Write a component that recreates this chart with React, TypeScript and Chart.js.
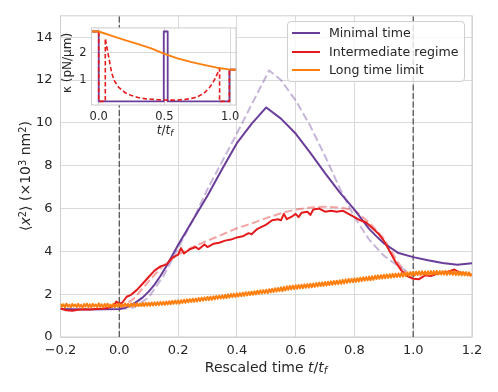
import React, { useEffect, useRef } from "react";
import { Chart, registerables } from "chart.js";

Chart.register(...registerables);

const FONT = "'DejaVu Sans', sans-serif";
const TEXT = "#262626";
const GRID = "#dadada";
const SPINE = "#cccccc";

const PURPLE = "#6a3d9a";
const RED = "#e41a1c";
const ORANGE = "#ff7f0e";
const PURPLE_LIGHT = "rgba(106,61,154,0.38)";
const RED_LIGHT = "rgba(228,26,28,0.4)";
const EDGE = "#555555";

// ---- main axes ----
const xTicks = [-0.2, 0, 0.2, 0.4, 0.6, 0.8, 1.0, 1.2];
const xTickLabels = ["\u22120.2", "0.0", "0.2", "0.4", "0.6", "0.8", "1.0", "1.2"];
const yTicks = [0, 2, 4, 6, 8, 10, 12, 14];
const yTickLabels = ["0", "2", "4", "6", "8", "10", "12", "14"];
const xRange = [-0.2, 1.2];
const yRange = [0, 15];
const protocolEdges = [0, 1];

// Minimal time: simulation
const minimalT = [-0.2, -0.15, -0.1, -0.05, 0, 0.02, 0.04, 0.06, 0.08, 0.1, 0.12, 0.14, 0.16, 0.18, 0.2, 0.25, 0.3, 0.35, 0.4, 0.45, 0.5, 0.55, 0.6, 0.65, 0.7, 0.75, 0.8, 0.85, 0.875, 0.9, 0.95, 1.0, 1.05, 1.1, 1.15, 1.2];
const minimalV = [1.31, 1.3, 1.29, 1.3, 1.31, 1.36, 1.48, 1.65, 1.85, 2.12, 2.45, 2.85, 3.3, 3.8, 4.3, 5.45, 6.6, 7.85, 9.05, 9.95, 10.72, 10.2, 9.5, 8.6, 7.65, 6.75, 5.95, 5.05, 4.7, 4.38, 3.92, 3.73, 3.58, 3.46, 3.37, 3.44];

// Minimal time: theory (dashed)
const minimalTheoryT = [0, 0.05, 0.1, 0.15, 0.2, 0.25, 0.3, 0.35, 0.4, 0.45, 0.51, 0.55, 0.6, 0.65, 0.7, 0.75, 0.8, 0.85, 0.9, 0.95, 0.98];
const minimalTheoryV = [1.3, 1.38, 1.85, 2.85, 4.15, 5.45, 6.9, 8.2, 9.5, 10.85, 12.45, 12.0, 11.05, 9.85, 8.45, 6.95, 5.6, 4.55, 3.8, 3.3, 3.05];

// Intermediate regime: simulation
const interT = [-0.2, -0.18, -0.16, -0.14, -0.12, -0.1, -0.08, -0.06, -0.04, -0.02, -0.01, 0.0, 0.01, 0.025, 0.04, 0.06, 0.08, 0.1, 0.12, 0.14, 0.16, 0.18, 0.2, 0.21, 0.22, 0.24, 0.26, 0.27, 0.29, 0.3, 0.32, 0.34, 0.36, 0.38, 0.4, 0.42, 0.44, 0.45, 0.47, 0.5, 0.52, 0.54, 0.55, 0.56, 0.57, 0.59, 0.6, 0.61, 0.62, 0.64, 0.65, 0.66, 0.68, 0.7, 0.72, 0.74, 0.76, 0.78, 0.8, 0.82, 0.84, 0.86, 0.88, 0.9, 0.92, 0.94, 0.96, 0.98, 1.0, 1.02, 1.04, 1.06, 1.08, 1.1, 1.12, 1.14, 1.16, 1.18, 1.2];
const interV = [1.33, 1.25, 1.23, 1.27, 1.3, 1.28, 1.31, 1.32, 1.35, 1.45, 1.65, 1.55, 1.6, 1.88, 1.97, 2.2, 2.5, 2.8, 3.1, 3.3, 3.38, 3.7, 3.85, 4.15, 3.9, 4.1, 4.2, 4.1, 4.32, 4.2, 4.35, 4.4, 4.5, 4.55, 4.65, 4.7, 4.85, 4.8, 5.05, 5.25, 5.45, 5.5, 5.45, 5.75, 5.5, 5.65, 5.75, 5.6, 5.8, 5.85, 5.7, 5.95, 6.0, 5.85, 5.9, 5.85, 5.9, 5.75, 5.6, 5.45, 5.35, 5.1, 4.85, 4.5, 4.0, 3.5, 3.1, 2.85, 2.72, 2.7, 2.88, 2.85, 2.95, 3.0, 3.05, 3.15, 3.0, 2.95, 2.9];

// Intermediate regime: theory (dashed)
const interTheoryT = [0, 0.05, 0.1, 0.15, 0.2, 0.25, 0.3, 0.35, 0.4, 0.45, 0.5, 0.55, 0.6, 0.65, 0.7, 0.75, 0.8, 0.85, 0.9, 0.95, 0.975];
const interTheoryV = [1.3, 1.8, 2.6, 3.35, 3.85, 4.2, 4.5, 4.78, 5.08, 5.3, 5.55, 5.78, 5.95, 6.05, 6.08, 6.05, 5.92, 5.35, 4.6, 3.45, 3.0];

// Long time limit: simulation (sampled every 0.005 from -0.2)
const longStart = -0.2;
const longStep = 0.005;
const longV = [
  1.55, 1.41, 1.53, 1.38, 1.56, 1.42, 1.51, 1.39, 1.54, 1.43,
  1.52, 1.4, 1.55, 1.41, 1.5, 1.37, 1.54, 1.42, 1.56, 1.4,
  1.53, 1.39, 1.55, 1.43, 1.52, 1.4, 1.57, 1.41, 1.53, 1.38,
  1.54, 1.42, 1.56, 1.4, 1.52, 1.41, 1.55, 1.39, 1.53, 1.42,
  1.55, 1.41, 1.54, 1.42, 1.57, 1.43, 1.55, 1.41, 1.56, 1.43,
  1.57, 1.43, 1.58, 1.44, 1.56, 1.45, 1.59, 1.44, 1.6, 1.46,
  1.6, 1.46, 1.61, 1.47, 1.62, 1.48, 1.63, 1.49, 1.64, 1.5,
  1.64, 1.5, 1.66, 1.52, 1.67, 1.53, 1.69, 1.55, 1.7, 1.56,
  1.71, 1.56, 1.72, 1.59, 1.74, 1.6, 1.76, 1.62, 1.77, 1.64,
  1.79, 1.64, 1.8, 1.66, 1.82, 1.68, 1.84, 1.7, 1.85, 1.72,
  1.87, 1.72, 1.88, 1.74, 1.9, 1.76, 1.92, 1.78, 1.93, 1.8,
  1.95, 1.8, 1.97, 1.82, 1.99, 1.84, 2.01, 1.86, 2.02, 1.88,
  2.04, 1.89, 2.05, 1.91, 2.07, 1.92, 2.09, 1.94, 2.1, 1.96,
  2.12, 1.97, 2.14, 1.99, 2.16, 2.01, 2.18, 2.03, 2.19, 2.05,
  2.21, 2.05, 2.23, 2.08, 2.25, 2.1, 2.28, 2.12, 2.29, 2.14,
  2.32, 2.14, 2.34, 2.17, 2.37, 2.2, 2.39, 2.22, 2.4, 2.24,
  2.42, 2.25, 2.43, 2.27, 2.44, 2.28, 2.46, 2.3, 2.47, 2.31,
  2.49, 2.32, 2.5, 2.34, 2.52, 2.36, 2.54, 2.38, 2.55, 2.39,
  2.57, 2.4, 2.58, 2.42, 2.6, 2.44, 2.62, 2.46, 2.63, 2.47,
  2.65, 2.48, 2.67, 2.5, 2.69, 2.53, 2.71, 2.55, 2.72, 2.56,
  2.74, 2.57, 2.75, 2.59, 2.77, 2.61, 2.79, 2.63, 2.8, 2.64,
  2.82, 2.65, 2.84, 2.67, 2.86, 2.7, 2.88, 2.72, 2.89, 2.73,
  2.91, 2.74, 2.92, 2.76, 2.93, 2.77, 2.95, 2.79, 2.96, 2.8,
  2.97, 2.81, 2.99, 2.82, 3.0, 2.84, 3.02, 2.86, 3.03, 2.87,
  3.04, 2.87, 3.05, 2.89, 3.06, 2.89, 3.07, 2.9, 3.06, 2.9,
  3.07, 2.9, 3.08, 2.91, 3.08, 2.92, 3.09, 2.91, 3.08, 2.92,
  3.08, 2.91, 3.09, 2.9, 3.08, 2.92, 3.07, 2.9, 3.08, 2.89,
  3.06, 2.89, 3.05, 2.88, 3.04, 2.88, 3.03, 2.87, 3.02, 2.86,
  2.95,
];

// ---- inset: stiffness protocols ----
const insetXTicks = [0, 0.5, 1.0];
const insetXTickLabels = ["0.0", "0.5", "1.0"];
const insetYTicks = [1, 2];
const insetYTickLabels = ["1", "2"];
const insetXRange = [-0.055, 1.045];
const insetYRange = [0.11, 2.9];

const kMinimalT = [-0.05, 0, 0, 0.495, 0.495, 0.525, 0.525, 0.995, 0.995, 1.045];
const kMinimalV = [2.77, 2.77, 0.24, 0.24, 2.77, 2.77, 0.24, 0.24, 1.39, 1.39];

const kInterT = [-0.05, 0, 0, 0.05, 0.05, 0.06, 0.07, 0.08, 0.09, 0.1, 0.12, 0.15, 0.2, 0.25, 0.3, 0.35, 0.4, 0.45, 0.5, 0.55, 0.6, 0.65, 0.7, 0.75, 0.8, 0.84, 0.87, 0.89, 0.91, 0.92, 0.92, 0.995, 0.995, 1.045];
const kInterV = [2.77, 2.77, 0.24, 0.24, 2.52, 2.25, 2.0, 1.75, 1.48, 1.25, 0.98, 0.76, 0.56, 0.45, 0.38, 0.34, 0.32, 0.3, 0.29, 0.285, 0.29, 0.31, 0.34, 0.4, 0.53, 0.72, 0.92, 1.1, 1.32, 1.43, 0.24, 0.24, 1.39, 1.39];

const kLongT = [-0.05, 0, 0.1, 0.2, 0.3, 0.4, 0.5, 0.6, 0.7, 0.8, 0.9, 1.0, 1.045];
const kLongV = [2.77, 2.77, 2.61, 2.46, 2.31, 2.16, 1.96, 1.8, 1.67, 1.56, 1.46, 1.39, 1.39];

const legendItems = [
  { label: "Minimal time", color: PURPLE },
  { label: "Intermediate regime", color: RED },
  { label: "Long time limit", color: ORANGE },
];

const zip = (t: number[], v: number[]) => t.map((x, i) => ({ x, y: v[i] }));
const onGrid = (start: number, step: number, v: number[]) =>
  v.map((y, i) => ({ x: +(start + i * step).toFixed(4), y }));

const ds = (label: string, data: any[], color: string, width: number, dash: number[], order: number) => ({
  label,
  data,
  borderColor: color,
  backgroundColor: color,
  borderWidth: width,
  borderDash: dash,
  pointRadius: 0,
  pointHoverRadius: 0,
  fill: false,
  tension: 0,
  order,
  borderJoinStyle: "round" as const,
});

const labelFor = (ticks: number[], labels: string[]) => (value: any) => {
  const i = ticks.findIndex((t) => Math.abs(t - value) < 1e-9);
  return i >= 0 ? labels[i] : "";
};

const frameAndBg = (fill: boolean) => ({
  id: "frameAndBg",
  beforeDraw(chart: any) {
    if (!fill) return;
    const { ctx, chartArea: a } = chart;
    ctx.save();
    ctx.fillStyle = "#ffffff";
    ctx.fillRect(a.left, a.top, a.right - a.left, a.bottom - a.top);
    ctx.restore();
  },
  beforeDatasetsDraw(chart: any) {
    const { ctx, chartArea: a } = chart;
    ctx.save();
    ctx.strokeStyle = SPINE;
    ctx.lineWidth = 1;
    ctx.strokeRect(a.left, a.top, a.right - a.left, a.bottom - a.top);
    ctx.restore();
  },
});

export default function App() {
  const mainRef = useRef<HTMLCanvasElement | null>(null);
  const insetRef = useRef<HTMLCanvasElement | null>(null);

  useEffect(() => {
    const edgeSets = protocolEdges.map((e, i) =>
      ds("edge" + i, [{ x: e, y: yRange[0] }, { x: e, y: yRange[1] }], EDGE, 1.3, [6, 2.5], 6)
    );
    const main = new Chart(mainRef.current as HTMLCanvasElement, {
      type: "line",
      data: {
        datasets: [
          ds("Long time limit", onGrid(longStart, longStep, longV), ORANGE, 2, [], 0),
          ds("Intermediate regime", zip(interT, interV), RED, 2, [], 1),
          ds("Minimal time", zip(minimalT, minimalV), PURPLE, 2, [], 2),
          ds("Intermediate theory", zip(interTheoryT, interTheoryV), RED_LIGHT, 2, [8, 3.5], 3),
          ds("Minimal theory", zip(minimalTheoryT, minimalTheoryV), PURPLE_LIGHT, 2, [8, 3.5], 4),
          ...edgeSets,
        ] as any,
      },
      options: {
        animation: false,
        responsive: false,
        devicePixelRatio: 1,
        layout: { padding: { left: 0, right: 26, top: 15, bottom: 0 } },
        plugins: { legend: { display: false }, tooltip: { enabled: false } },
        scales: {
          x: {
            type: "linear",
            min: xRange[0],
            max: xRange[1],
            afterBuildTicks: (s: any) => {
              s.ticks = xTicks.map((value) => ({ value }));
            },
            afterFit: (s: any) => {
              s.height = 55;
            },
            ticks: {
              callback: labelFor(xTicks, xTickLabels),
              color: TEXT,
              font: { family: FONT, size: 13 },
              padding: 6,
              maxRotation: 0,
              autoSkip: false,
            },
            grid: { color: GRID, lineWidth: 1, drawTicks: false },
            border: { display: false },
          },
          y: {
            type: "linear",
            min: yRange[0],
            max: yRange[1],
            afterBuildTicks: (s: any) => {
              s.ticks = yTicks.map((value) => ({ value }));
            },
            afterFit: (s: any) => {
              s.width = 60.5;
            },
            ticks: {
              callback: labelFor(yTicks, yTickLabels),
              color: TEXT,
              font: { family: FONT, size: 13 },
              padding: 8,
              autoSkip: false,
            },
            grid: { color: GRID, lineWidth: 1, drawTicks: false },
            border: { display: false },
          },
        },
      } as any,
      plugins: [frameAndBg(false)],
    });

    const inset = new Chart(insetRef.current as HTMLCanvasElement, {
      type: "line",
      data: {
        datasets: [
          ds("Long time limit", zip(kLongT, kLongV), ORANGE, 1.9, [], 0),
          ds("Intermediate regime", zip(kInterT, kInterV), RED, 1.6, [4.5, 2.5], 1),
          ds("Minimal time", zip(kMinimalT, kMinimalV), PURPLE, 1.8, [], 2),
        ] as any,
      },
      options: {
        animation: false,
        responsive: false,
        devicePixelRatio: 1,
        layout: { padding: { left: 0, right: 9, top: 8, bottom: 0 } },
        plugins: { legend: { display: false }, tooltip: { enabled: false } },
        scales: {
          x: {
            type: "linear",
            min: insetXRange[0],
            max: insetXRange[1],
            afterBuildTicks: (s: any) => {
              s.ticks = insetXTicks.map((value) => ({ value }));
            },
            afterFit: (s: any) => {
              s.height = 19;
            },
            ticks: {
              callback: labelFor(insetXTicks, insetXTickLabels),
              color: TEXT,
              font: { family: FONT, size: 11.5 },
              padding: 5,
              maxRotation: 0,
              autoSkip: false,
            },
            grid: { color: GRID, lineWidth: 1, drawTicks: false },
            border: { display: false },
          },
          y: {
            type: "linear",
            min: insetYRange[0],
            max: insetYRange[1],
            afterBuildTicks: (s: any) => {
              s.ticks = insetYTicks.map((value) => ({ value }));
            },
            afterFit: (s: any) => {
              s.width = 31.5;
            },
            ticks: {
              callback: labelFor(insetYTicks, insetYTickLabels),
              color: TEXT,
              font: { family: FONT, size: 11.5 },
              padding: 5,
              autoSkip: false,
            },
            grid: { color: GRID, lineWidth: 1, drawTicks: false },
            border: { display: false },
          },
        },
      } as any,
      plugins: [frameAndBg(true)],
    });

    return () => {
      main.destroy();
      inset.destroy();
    };
  }, []);

  const sup: React.CSSProperties = { fontSize: "0.7em", verticalAlign: "0.45em", lineHeight: 0 };
  const sub: React.CSSProperties = { fontSize: "0.7em", verticalAlign: "-0.25em", lineHeight: 0 };

  return (
    <div
      style={{
        position: "fixed",
        left: 0,
        top: 0,
        width: 498,
        height: 392,
        background: "#ffffff",
        overflow: "hidden",
        fontFamily: FONT,
        color: TEXT,
      }}
    >
      <canvas ref={mainRef} width={498} height={392} style={{ position: "absolute", left: 0, top: 0 }} />
      <canvas ref={insetRef} width={185} height={108} style={{ position: "absolute", left: 60, top: 16 }} />

      {/* main y title */}
      <div
        style={{
          position: "absolute",
          left: 25,
          top: 176,
          transform: "translate(-50%, -50%) rotate(-90deg)",
          whiteSpace: "nowrap",
          fontSize: 14,
          lineHeight: 1,
        }}
      >
        {"\u27E8"}
        <i>x</i>
        <span style={sup}>2</span>
        {"\u27E9 (\u00D710"}
        <span style={sup}>3</span>
        {" nm"}
        <span style={sup}>2</span>
        {")"}
      </div>

      {/* main x title */}
      <div
        style={{
          position: "absolute",
          left: 266,
          top: 367,
          transform: "translate(-50%, -50%)",
          whiteSpace: "nowrap",
          fontSize: 14,
          lineHeight: 1,
        }}
      >
        {"Rescaled time "}
        <i>t</i>/<i>t</i>
        <i style={sub}>f</i>
      </div>

      {/* inset y title */}
      <div
        style={{
          position: "absolute",
          left: 67,
          top: 63,
          transform: "translate(-50%, -50%) rotate(-90deg)",
          whiteSpace: "nowrap",
          fontSize: 12,
          lineHeight: 1,
        }}
      >
        {"\u03BA (pN/\u00B5m)"}
      </div>

      {/* inset x title */}
      <div
        style={{
          position: "absolute",
          left: 165,
          top: 130,
          transform: "translate(-50%, -50%)",
          whiteSpace: "nowrap",
          fontSize: 12,
          lineHeight: 1,
        }}
      >
        <i>t</i>/<i>t</i>
        <i style={sub}>f</i>
      </div>

      {/* legend */}
      <div
        style={{
          position: "absolute",
          left: 287,
          top: 21,
          width: 178,
          height: 61,
          boxSizing: "border-box",
          background: "rgba(255,255,255,0.8)",
          border: "1px solid #d0d0d0",
          borderRadius: 4,
        }}
      >
        {legendItems.map((it, i) => (
          <div key={it.label} style={{ position: "absolute", left: 0, top: 11 + i * 18.7, width: "100%" }}>
            <div
              style={{
                position: "absolute",
                left: 4,
                top: -1,
                width: 28,
                height: 2,
                background: it.color,
              }}
            />
            <div
              style={{
                position: "absolute",
                left: 41,
                top: 0,
                transform: "translateY(-50%)",
                whiteSpace: "nowrap",
                fontSize: 12.6,
                lineHeight: 1,
              }}
            >
              {it.label}
            </div>
          </div>
        ))}
      </div>
    </div>
  );
}
